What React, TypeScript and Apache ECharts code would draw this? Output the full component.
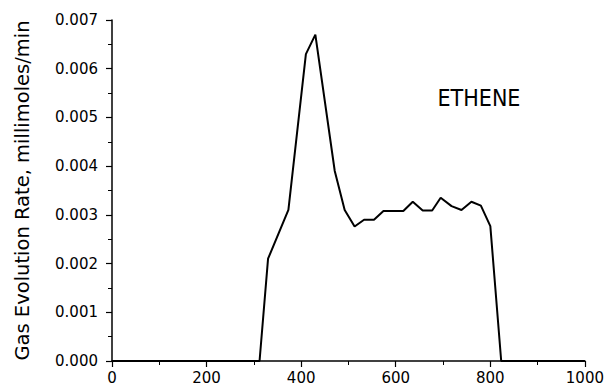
import React, { useEffect, useRef } from "react";
import * as echarts from "echarts";

const temperatures = [0, 312, 330, 373, 410, 430, 471, 492, 513, 533, 554, 574, 616, 636, 657, 677, 695, 718, 739, 760, 780, 800, 823, 1000];
const rates = [0, 0, 0.0021, 0.0031, 0.0063, 0.0067, 0.0039, 0.0031, 0.00276, 0.0029, 0.0029, 0.00308, 0.00308, 0.00327, 0.00309, 0.00309, 0.00335, 0.00318, 0.0031, 0.00327, 0.00319, 0.00277, 0, 0];
const seriesLabel = "ETHENE";
const yTitle = "Gas Evolution Rate, millimoles/min";

const FONT = "DejaVu Sans";

export default function App() {
  const ref = useRef<HTMLDivElement>(null);
  useEffect(() => {
    if (!ref.current) return;
    const chart = echarts.init(ref.current, undefined, { renderer: "svg" });
    const axisCommon = {
      axisLine: { show: true, lineStyle: { color: "#000", width: 1.5 } },
      axisTick: { show: true, inside: false, length: 6, lineStyle: { color: "#000", width: 1.2 } },
      minorTick: { show: true, splitNumber: 2, length: 4, lineStyle: { color: "#000", width: 1 } },
      splitLine: { show: false },
      axisLabel: { color: "#000", fontFamily: FONT, fontSize: 15 },
    };
    chart.setOption({
      animation: false,
      backgroundColor: "#fff",
      grid: { left: 112, right: 22, top: 20, bottom: 27, containLabel: false },
      xAxis: {
        type: "value",
        min: 0,
        max: 1000,
        interval: 200,
        ...axisCommon,
        axisLabel: { ...axisCommon.axisLabel, margin: 9, formatter: (v: number) => String(v) },
      },
      yAxis: {
        type: "value",
        min: 0,
        max: 0.007,
        interval: 0.001,
        ...axisCommon,
        axisLabel: {
          ...axisCommon.axisLabel,
          margin: 14,
          formatter: (v: number) => v.toFixed(3),
        },
        name: yTitle,
        nameLocation: "middle",
        nameGap: 80,
        nameTextStyle: { color: "#000", fontFamily: FONT, fontSize: 19.5 },
      },
      series: [
        {
          type: "line",
          data: temperatures.map((t, i) => [t, rates[i]]),
          showSymbol: false,
          lineStyle: { color: "#000", width: 2 },
        },
      ],
      graphic: [
        {
          type: "text",
          x: 479,
          y: 98,
          style: {
            text: seriesLabel,
            fill: "#000",
            font: `23px "Liberation Sans Narrow", "DejaVu Sans Condensed", sans-serif`,
            align: "center",
            verticalAlign: "middle",
          },
        },
      ],
    });
    return () => chart.dispose();
  }, []);
  return <div ref={ref} style={{ width: 607, height: 388, position: "absolute", left: 0, top: 0 }} />;
}
